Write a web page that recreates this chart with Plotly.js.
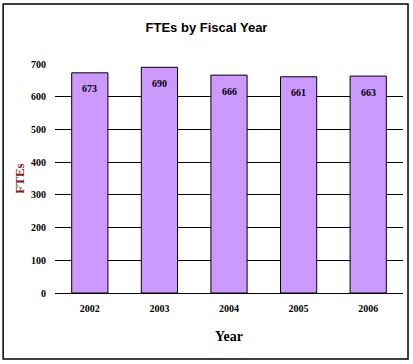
<!DOCTYPE html>
<html><head><meta charset="utf-8">
<script src="https://cdn.plot.ly/plotly-3.0.1.min.js"></script>
<style>html,body{margin:0;padding:0;background:#fff}#chart{width:413px;height:364px}</style>
</head><body><div id="chart"></div>
<script>
const years = ['2002','2003','2004','2005','2006'];
const ftes = [673, 690, 666, 661, 663];
const yTicks = [0,100,200,300,400,500,600,700];

const trace = {
  type:'bar', x: years, y: ftes,
  marker:{color:'#CC99FF', line:{color:'#000', width:1}},
  hoverinfo:'none'
};
const annotations = years.map((yr,i)=>({
  x: i, y: ftes[i], xref:'x', yref:'y', text: String(ftes[i]), showarrow:false,
  yshift:-16, font:{family:'Liberation Serif, Times New Roman, serif', size:10, color:'#000', weight:'bold'}
}));
const layout = {
  width:413, height:364,
  margin:{l:55, r:10, t:64, b:71},
  paper_bgcolor:'#fff', plot_bgcolor:'#fff',
  showlegend:false, bargap:0.48,
  title:{text:'<b>FTEs by Fiscal Year</b>', x:0.5, xanchor:'center', y:0.925, yanchor:'middle',
    font:{family:'Liberation Sans, Arial, sans-serif', size:13, color:'#000'}},
  xaxis:{type:'category', range:[-0.5, years.length-0.5], autorange:false, showgrid:false, zeroline:false, showline:false, ticks:'',
    ticklabelstandoff:8,
    tickfont:{family:'Liberation Serif, Times New Roman, serif', size:10, color:'#000', weight:'bold'},
    title:{text:'<b>Year</b>', standoff:18, font:{family:'Liberation Serif, Times New Roman, serif', size:14, color:'#000'}}},
  yaxis:{range:[0,700], autorange:false, tickvals:yTicks, showgrid:true, gridcolor:'#000', gridwidth:1,
    zeroline:true, zerolinecolor:'#000', zerolinewidth:1, showline:false, ticks:'', ticklen:0,
    ticklabelstandoff:8,
    tickfont:{family:'Liberation Serif, Times New Roman, serif', size:10, color:'#000', weight:'bold'},
    title:{text:'<b>FTEs</b>', standoff:3, font:{family:'Liberation Serif, Times New Roman, serif', size:13, color:'#7a2020'}}},
  annotations: annotations,
  shapes:[{type:'rect', xref:'paper', yref:'paper', x0:-0.149, x1:1.0144, y0:-0.288, y1:1.262,
    line:{color:'#000', width:1.5}, fillcolor:'rgba(0,0,0,0)', layer:'below'}]
};
Plotly.newPlot('chart',[trace],layout,{staticPlot:true, displayModeBar:false});
</script></body></html>
